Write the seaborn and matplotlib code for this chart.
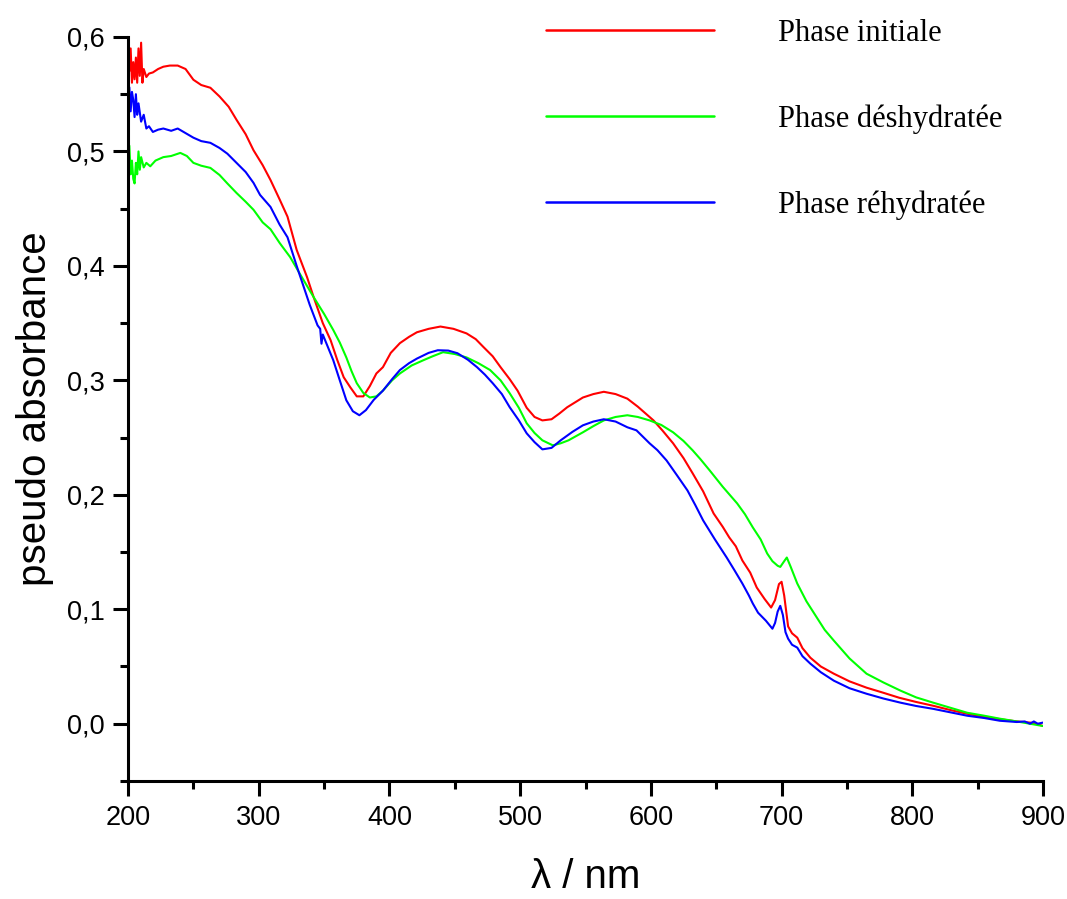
import numpy as np
import pandas as pd
import seaborn as sns
from matplotlib import pyplot as plt
from matplotlib.ticker import MultipleLocator, FixedLocator, FixedFormatter

# spectra (wavelength nm, pseudo absorbance)
wl_init = [200, 201, 202, 203, 204, 205, 206, 207, 208, 209, 210, 211, 212, 214, 216, 219, 223, 227, 232, 238,
           244, 250, 256, 263, 270, 277, 283, 290, 296, 303, 309, 316, 322, 329, 337, 342, 349, 355, 360, 365,
           370, 375, 380, 385, 390, 395, 401, 408, 415, 421, 430, 439, 449, 459, 466, 472, 479, 485, 492, 498,
           505, 511, 517, 524, 530, 536, 548, 556, 564, 573, 582, 590, 602, 609, 617, 625, 632, 640, 648, 655,
           660, 665, 670, 676, 681, 687, 692, 695, 698, 700, 702, 705, 708, 712, 716, 722, 730, 740, 752, 765,
           778, 790, 803, 816, 829, 842, 855, 867, 880, 890, 895, 900]
abs_init = [0.598, 0.570, 0.590, 0.560, 0.578, 0.563, 0.582, 0.560, 0.590, 0.566, 0.595, 0.560, 0.572, 0.565, 0.568,
            0.569, 0.572, 0.574, 0.575, 0.575, 0.572, 0.5626, 0.558, 0.5556, 0.548, 0.539, 0.5276, 0.515, 0.501,
            0.488, 0.475, 0.458, 0.443, 0.414, 0.39, 0.3727, 0.35, 0.335, 0.318, 0.3027, 0.294, 0.286, 0.286,
            0.295, 0.306, 0.3115, 0.324, 0.3325, 0.338, 0.342, 0.345, 0.347, 0.345, 0.341, 0.336, 0.329, 0.321,
            0.3115, 0.301, 0.291, 0.276, 0.268, 0.265, 0.266, 0.271, 0.2765, 0.285, 0.288, 0.29, 0.288, 0.284,
            0.277, 0.265, 0.256, 0.245, 0.232, 0.2187, 0.203, 0.1837, 0.172, 0.1627, 0.155, 0.1426, 0.132, 0.119,
            0.109, 0.1015, 0.108, 0.122, 0.124, 0.112, 0.085, 0.079, 0.0752, 0.066, 0.0577, 0.05, 0.0437, 0.037,
            0.0315, 0.027, 0.0227, 0.019, 0.0157, 0.012, 0.0087, 0.006, 0.004, 0.002, 0.001, 0.0, -0.002]

wl_desh = [200, 201, 202, 203, 204, 205, 206, 207, 208, 209, 210, 212, 214, 217, 221, 227, 233, 240, 245, 250,
           256, 263, 270, 276, 283, 290, 296, 303, 309, 316, 324, 332, 342, 350, 357, 362, 367, 371, 375, 380,
           385, 390, 395, 402, 408, 417, 426, 433, 441, 450, 459, 468, 477, 485, 492, 499, 505, 511, 517, 525,
           531, 537, 548, 556, 564, 573, 582, 590, 599, 608, 617, 625, 632, 638, 645, 655, 666, 672, 678, 684,
           689, 693, 697, 699, 702, 704, 707, 712, 719, 727, 733, 740, 752, 765, 778, 791, 803, 816, 829, 842,
           855, 867, 880, 890, 900]
abs_desh = [0.490, 0.505, 0.480, 0.492, 0.476, 0.472, 0.490, 0.480, 0.500, 0.484, 0.495, 0.486, 0.490, 0.487,
            0.492, 0.495, 0.496, 0.4987, 0.496, 0.490, 0.4875, 0.4856, 0.4794, 0.472, 0.4637, 0.456, 0.449, 0.438,
            0.432, 0.42, 0.4077, 0.392, 0.3727, 0.358, 0.344, 0.333, 0.32, 0.308, 0.2975, 0.289, 0.285, 0.286,
            0.291, 0.300, 0.306, 0.313, 0.3176, 0.321, 0.3246, 0.323, 0.32, 0.315, 0.309, 0.3, 0.2887, 0.276,
            0.2625, 0.254, 0.2476, 0.2432, 0.245, 0.2476, 0.2546, 0.26, 0.265, 0.268, 0.2695, 0.268, 0.265, 0.261,
            0.2546, 0.247, 0.2388, 0.231, 0.2213, 0.207, 0.1925, 0.183, 0.1715, 0.161, 0.1487, 0.142, 0.138, 0.137,
            0.142, 0.1452, 0.137, 0.1225, 0.107, 0.0927, 0.082, 0.0726, 0.057, 0.0437, 0.036, 0.0289, 0.023,
            0.0184, 0.014, 0.0096, 0.007, 0.0044, 0.002, 0.0, -0.002]

wl_rehy = [200, 201, 202, 203, 204, 205, 206, 207, 208, 210, 212, 214, 216, 219, 223, 227, 233, 238, 244, 250,
           256, 263, 270, 276, 283, 290, 296, 301, 309, 316, 322, 329, 334, 339, 345, 347, 348, 349, 357, 362,
           367, 372, 377, 382, 388, 395, 402, 408, 415, 421, 430, 437, 445, 452, 460, 467, 473, 479, 486, 492,
           499, 505, 511, 517, 524, 531, 540, 548, 556, 564, 573, 582, 589, 599, 605, 612, 620, 628, 634, 640,
           649, 658, 664, 670, 675, 678, 682, 688, 693, 695, 697, 699, 701, 703, 705, 708, 712, 716, 722, 730,
           740, 752, 765, 778, 791, 803, 816, 829, 842, 855, 867, 880, 886, 890, 893, 896, 900]
abs_rehy = [0.540, 0.556, 0.535, 0.552, 0.545, 0.530, 0.550, 0.532, 0.542, 0.526, 0.532, 0.520, 0.522, 0.517,
            0.519, 0.52, 0.518, 0.52, 0.516, 0.512, 0.509, 0.5075, 0.503, 0.498, 0.49, 0.482, 0.4725, 0.462,
            0.4515, 0.436, 0.425, 0.400, 0.383, 0.366, 0.348, 0.345, 0.332, 0.34, 0.3176, 0.30, 0.2826, 0.273,
            0.2695, 0.274, 0.283, 0.291, 0.301, 0.309, 0.315, 0.319, 0.324, 0.3263, 0.326, 0.3237, 0.318, 0.3115,
            0.305, 0.2975, 0.288, 0.2765, 0.265, 0.2537, 0.246, 0.2397, 0.241, 0.2476, 0.255, 0.2607, 0.264,
            0.266, 0.264, 0.259, 0.2563, 0.245, 0.239, 0.23, 0.217, 0.2038, 0.191, 0.1776, 0.161, 0.1452, 0.134,
            0.1225, 0.112, 0.105, 0.097, 0.09, 0.083, 0.088, 0.098, 0.103, 0.095, 0.08, 0.0743, 0.069, 0.0665,
            0.059, 0.0525, 0.045, 0.0376, 0.031, 0.0262, 0.022, 0.0184, 0.0155, 0.013, 0.01, 0.007, 0.005, 0.0026,
            0.0015, 0.002, 0.0, 0.002, 0.0, 0.001]

phases = ['Phase initiale', 'Phase déshydratée', 'Phase réhydratée']
colors = ['#ff0000', '#00ff00', '#0000ff']
x_ticks = [200, 300, 400, 500, 600, 700, 800, 900]
y_ticks = [0.0, 0.1, 0.2, 0.3, 0.4, 0.5, 0.6]
y_tick_labels = ['0,0', '0,1', '0,2', '0,3', '0,4', '0,5', '0,6']

df = pd.concat([
    pd.DataFrame({'wl': wl_init, 'A': abs_init, 'phase': phases[0]}),
    pd.DataFrame({'wl': wl_desh, 'A': abs_desh, 'phase': phases[1]}),
    pd.DataFrame({'wl': wl_rehy, 'A': abs_rehy, 'phase': phases[2]}),
])

sns.set_style('ticks')
plt.rcParams['font.family'] = ['Liberation Sans', 'DejaVu Sans']
plt.rcParams['text.color'] = 'black'
plt.rcParams['axes.labelcolor'] = 'black'

fig = plt.figure(figsize=(10.67, 8.99), dpi=100)
ax = fig.add_axes([0.12, 0.1313, 0.8575, 0.8276])
sns.lineplot(data=df, x='wl', y='A', hue='phase', palette=dict(zip(phases, colors)),
             estimator=None, sort=True, linewidth=1.5, ax=ax)

ax.set_xlim(200, 900)
ax.set_ylim(-0.05, 0.6)
ax.xaxis.set_major_locator(FixedLocator(x_ticks))
ax.xaxis.set_minor_locator(MultipleLocator(50))
ax.yaxis.set_major_locator(FixedLocator(y_ticks))
ax.yaxis.set_major_formatter(FixedFormatter(y_tick_labels))
ax.yaxis.set_minor_locator(MultipleLocator(0.05))
ax.tick_params(which='major', length=11, width=2.2, labelsize=19.5, color='black', labelcolor='black', pad=6)
ax.tick_params(which='minor', length=6, width=2.2, color='black')
sns.despine(ax=ax)
for s in ['left', 'bottom']:
    ax.spines[s].set_linewidth(2.2)
    ax.spines[s].set_color('black')

ax.set_xlabel('λ / nm', fontsize=29, labelpad=20)
ax.set_ylabel('pseudo absorbance', fontsize=29, labelpad=9)

leg = ax.legend(loc='upper left', bbox_to_anchor=(0.44, 1.045), frameon=False, handlelength=5.5,
                handletextpad=2.1, labelspacing=1.85, borderpad=0,
                prop={'family': 'Liberation Serif', 'size': 22})
for line in leg.get_lines():
    line.set_linewidth(1.8)

fig.savefig('out.png', dpi=100)
